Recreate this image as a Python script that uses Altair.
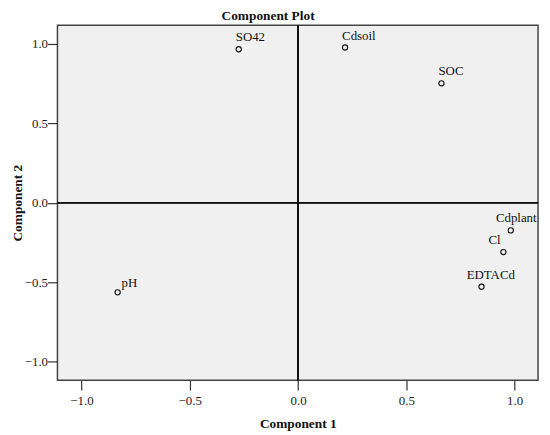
import altair as alt
import pandas as pd

labels = ["SO42", "Cdsoil", "SOC", "Cdplant", "Cl", "EDTACd", "pH"]
comp1 = [-0.274, 0.217, 0.662, 0.982, 0.948, 0.847, -0.833]
comp2 = [0.964, 0.975, 0.75, -0.174, -0.31, -0.528, -0.563]

right_side = ["Cdplant", "Cl", "EDTACd"]
lower_left = ["pH"]

df = pd.DataFrame({"label": labels, "c1": comp1, "c2": comp2})

FONT = "Liberation Serif"

xs = alt.Scale(domain=[-1.111, 1.108], nice=False, zero=False)
ys = alt.Scale(domain=[-1.115, 1.115], nice=False, zero=False)

ticks = [-1.0, -0.5, 0.0, 0.5, 1.0]

xaxis = alt.Axis(title="Component 1", values=ticks, format=".1f",
                 grid=False, domain=False, tickSize=10, tickColor="#333", tickWidth=1.2,
                 labelPadding=5, labelFont=FONT, labelFontSize=13, labelColor="#222",
                 titleFont=FONT, titleFontSize=13.5, titleFontWeight="bold", titleColor="#111",
                 titlePadding=9)
yaxis = alt.Axis(title="Component 2", values=ticks, format=".1f",
                 grid=False, domain=False, tickSize=10, tickColor="#333", tickWidth=1.2,
                 labelPadding=0, labelFont=FONT, labelFontSize=13, labelColor="#222",
                 titleFont=FONT, titleFontSize=13.5, titleFontWeight="bold", titleColor="#111",
                 titleX=-33, titleBaseline="bottom")

base = alt.Chart(df)

points = base.mark_point(shape="circle", filled=False, color="#111", size=28, strokeWidth=1.1, opacity=1).encode(
    x=alt.X("c1:Q", scale=xs, axis=xaxis),
    y=alt.Y("c2:Q", scale=ys, axis=yaxis),
)

vline = base.mark_rule(color="#111", strokeWidth=1.2).encode(x=alt.datum(0, scale=xs))
hline = base.mark_rule(color="#111", strokeWidth=1.2).encode(y=alt.datum(0, scale=ys))

txt_kw = dict(font=FONT, fontSize=13, color="#111", align="left", baseline="alphabetic")

upper = base.transform_filter(
    ~alt.FieldOneOfPredicate(field="label", oneOf=right_side + lower_left)
).mark_text(dx=-3, dy=-8, **txt_kw).encode(x="c1:Q", y="c2:Q", text="label:N")

rightlab = base.transform_filter(
    alt.FieldOneOfPredicate(field="label", oneOf=right_side)
).mark_text(dx=-15, dy=-8, **txt_kw).encode(x="c1:Q", y="c2:Q", text="label:N")

leftlab = base.transform_filter(
    alt.FieldOneOfPredicate(field="label", oneOf=lower_left)
).mark_text(dx=4, dy=-5, **txt_kw).encode(x="c1:Q", y="c2:Q", text="label:N")

chart = alt.layer(vline, hline, points, upper, rightlab, leftlab).properties(
    width=486, height=359,
    autosize=alt.AutoSizeParams(type="none"),
    padding={"left": 50, "top": 15, "right": 4, "bottom": 50},
    title=alt.TitleParams("Component Plot", font=FONT, fontSize=13.5, fontWeight="bold",
                          color="#111", dx=-30, offset=2),
).configure_view(stroke="#444", strokeWidth=1.5, fill="#f0f0f0")

chart.save("out.html", embed_options={"renderer": "svg", "actions": False})
